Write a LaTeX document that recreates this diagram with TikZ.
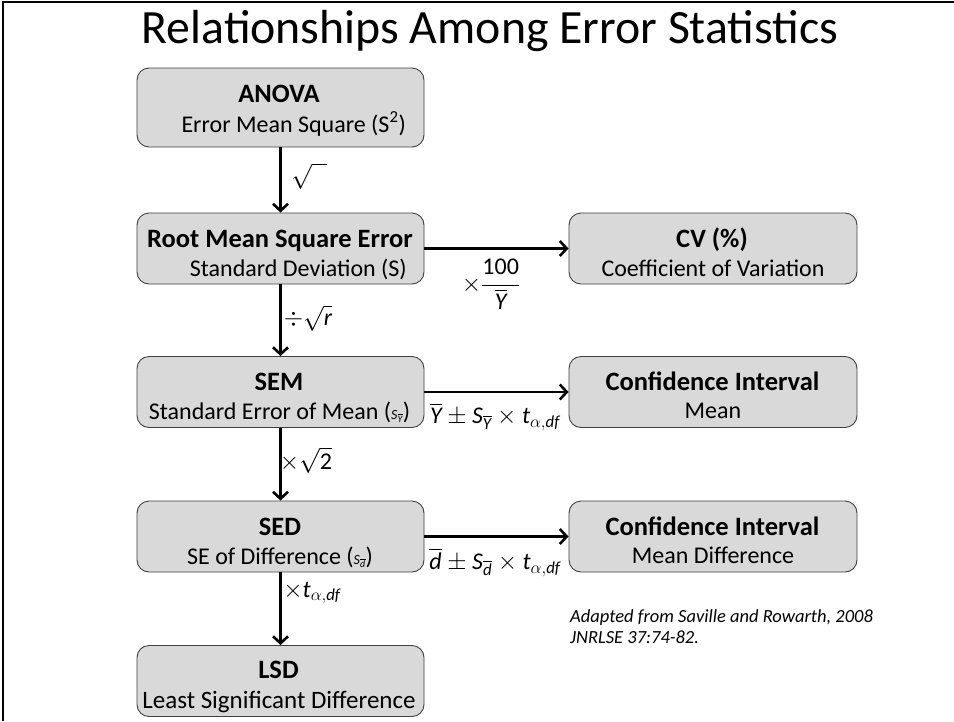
\documentclass[tikz,border=0pt]{standalone}
\usepackage{amsmath}
\usepackage{fontspec}
\setmainfont{Carlito}
\usetikzlibrary{arrows.meta}
\definecolor{boxgray}{HTML}{D9D9D9}
\definecolor{boxline}{HTML}{404040}
\newcommand{\mi}[1]{\textit{#1}}
\begin{document}
\begin{tikzpicture}[x=1pt,y=-1pt,
  box/.style={draw=boxline, line width=0.9pt, fill=boxgray, rounded corners=12pt,
    minimum width=287pt, minimum height=71pt, inner sep=0pt},
  ttl/.style={font=\fontsize{26.5}{30}\selectfont\bfseries, inner sep=0pt, anchor=base},
  sub/.style={font=\fontsize{24}{28}\selectfont, inner sep=0pt, anchor=base},
  lab/.style={font=\fontsize{24}{28}\selectfont, inner sep=0pt},
  arr/.style={line width=2.6pt, -{Straight Barb[length=7pt,width=15pt]}},
  note/.style={font=\fontsize{18.5}{21}\selectfont\itshape, inner sep=0pt, align=left, anchor=base west}]
\useasboundingbox (0,0) rectangle (954,721);
% frame
\draw[line width=2pt] (3,721) -- (3,2) -- (954,2);
% title
\node[font=\fontsize{47.8}{54}\selectfont, inner sep=0pt, anchor=base] (title) at (490,43) {Relationships Among Error Statistics};
% boxes
\node[box, minimum height=79pt] (A) at (280.5,107.5) {};
\node[box] (R) at (280.5,248.5) {};
\node[box, minimum width=288pt] (CV) at (713,248.5) {};
\node[box] (SEM) at (280.5,392) {};
\node[box, minimum width=288pt] (CIM) at (713,392) {};
\node[box] (SED) at (280.5,536.5) {};
\node[box, minimum width=288pt] (CID) at (713,536.5) {};
\node[box] (LSD) at (280.5,681) {};
% box texts
\node[ttl] (At) at (279,102) {ANOVA};
\node[sub, anchor=base east] (As) at (406,132) {Error Mean Square (S\textsuperscript{2})};
\node[ttl] (Rt) at (280,247) {Root Mean Square Error};
\node[sub, anchor=base east] (Rs) at (407,276) {Standard Deviation (S)};
\node[ttl] (CVt) at (712,247) {CV (\%)};
\node[sub] (CVs) at (713,276) {Coefficient of Variation};
\node[ttl] (SEMt) at (279,390) {SEM};
\node[sub] (SEMs) at (279.5,419) {Standard Error of Mean ({\fontsize{14}{16}\selectfont$\mi{S}_{\overline{\mi{Y}}}$})};
\node[ttl] (CIMt) at (712.5,390) {Confidence Interval};
\node[sub] (CIMs) at (713,418) {Mean};
\node[ttl] (SEDt) at (280,535) {SED};
\node[sub] (SEDs) at (280,564) {SE of Difference ({\fontsize{14}{16}\selectfont$\mi{S}_{\overline{\mi{d}}}$})};
\node[ttl] (CIDt) at (712.5,535) {Confidence Interval};
\node[sub] (CIDs) at (713,563) {Mean Difference};
\node[ttl] (LSDt) at (278.5,678) {LSD};
\node[sub, font=\fontsize{25}{30}\selectfont] (LSDs) at (279,708) {Least Significant Difference};
% connectors
\draw[arr] (A) -- (R);
\draw[arr] (R) -- (SEM);
\draw[arr] (SEM) -- (SED);
\draw[arr] (SED) -- (LSD);
\draw[arr] (R) -- (CV);
\draw[arr] (SEM) -- (CIM);
\draw[arr] (SED) -- (CID);
% connector labels
\node[lab] (l1) at (309,176) {$\sqrt{\hphantom{n}}$};
\node[lab] (l2) at (491,284) {$\times\dfrac{\mbox{100}}{\overline{\mi{Y}}}$};
\node[lab] (l3) at (308,318) {$\div\sqrt{\mi{r}}$};
\node[lab] (l4) at (495,417) {$\overline{\mi{Y}}\pm \mi{S}_{\overline{\mi{Y}}}\times \mi{t}_{\alpha,\mi{df}}$};
\node[lab] (l5) at (306,460) {$\times\sqrt{\mbox{2}}$};
\node[lab] (l6) at (495,562) {$\overline{\mi{d}}\pm \mi{S}_{\overline{\mi{d}}}\times \mi{t}_{\alpha,\mi{df}}$};
\node[lab] (l7) at (312,593) {$\times\mi{t}_{\alpha,\mi{df}}$};
% note
\node[note] (src) at (570,643) {Adapted from Saville and Rowarth, 2008\\JNRLSE 37:74-82.};
\end{tikzpicture}
\end{document}
